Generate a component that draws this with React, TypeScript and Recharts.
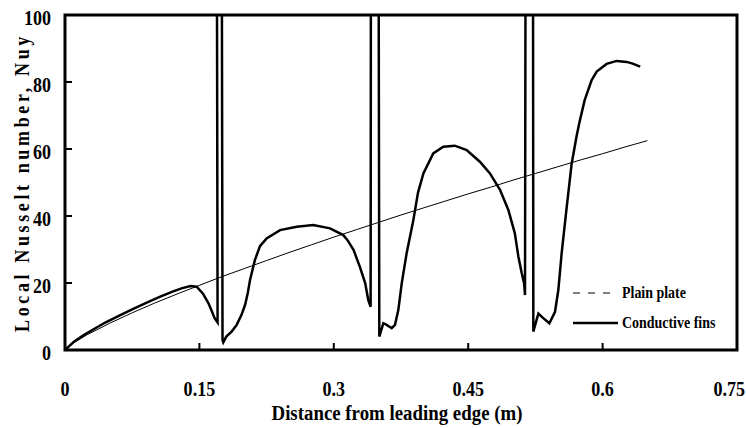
import { LineChart, Line, XAxis, YAxis, ReferenceArea, Legend, Label } from 'recharts'

// plain plate (thin line)
const plateX = [0, 0.01, 0.025, 0.05, 0.075, 0.1, 0.125, 0.15, 0.175, 0.2, 0.225, 0.25, 0.275, 0.3, 0.325, 0.35, 0.375, 0.4, 0.425, 0.45, 0.475, 0.5, 0.525, 0.55, 0.575, 0.6, 0.625, 0.65]
const plateNu = [0, 2.2, 4.6, 8.0, 11.1, 14.0, 16.7, 19.3, 21.9, 24.3, 26.7, 29.1, 31.4, 33.7, 35.9, 38.1, 40.3, 42.4, 44.5, 46.6, 48.6, 50.7, 52.7, 54.7, 56.7, 58.6, 60.6, 62.5]

// conductive fins (thick line) - spikes over the fins go off the top of the plot
const finX = [
  0, 0.01, 0.02, 0.03, 0.045, 0.06, 0.075, 0.09, 0.105, 0.12, 0.13, 0.14, 0.147, 0.154, 0.16, 0.164, 0.167, 0.1703,
  0.1693, 0.1748, 0.1758, 0.1767, 0.18, 0.186, 0.1916, 0.197, 0.201, 0.204, 0.2065, 0.212, 0.2176, 0.225, 0.24, 0.2586,
  0.277, 0.2958, 0.3106, 0.3153, 0.322, 0.329, 0.335, 0.3385, 0.3411,
  0.3415, 0.3498, 0.3508, 0.3553, 0.359, 0.3646, 0.3683, 0.372, 0.3758, 0.3813, 0.3888, 0.394, 0.4, 0.411, 0.4222,
  0.435, 0.4483, 0.463, 0.4743, 0.4855, 0.4948, 0.502, 0.506, 0.5097, 0.5123, 0.5134,
  0.5142, 0.5222, 0.5227, 0.5283, 0.5338, 0.5406, 0.5469, 0.5506, 0.5543, 0.56, 0.5655, 0.5711, 0.5748, 0.58, 0.5878,
  0.5934, 0.6045, 0.6157, 0.6269, 0.6335, 0.642,
]
const finNu = [
  0, 2.5, 4.3, 5.9, 8.2, 10.2, 12.1, 14.0, 15.8, 17.4, 18.4, 19.1, 18.9, 16.8, 14.0, 11.5, 9.5, 8.2,
  150, 150, 3.0, 2.3, 4.0, 5.5, 7.5, 10.5, 13.5, 17.0, 20.9, 26.9, 31.0, 33.3, 35.8, 36.8,
  37.3, 36.3, 34.3, 32.8, 29.9, 24.9, 20.0, 14.9, 12.9,
  150, 150, 4.0, 8.0, 7.5, 6.5, 7.5, 11.9, 19.9, 28.9, 38.8, 47.0, 52.7, 58.7, 60.7,
  61.0, 59.7, 56.2, 52.7, 47.8, 41.8, 34.9, 27.9, 23.0, 20.0, 16.4,
  150, 150, 5.5, 10.9, 9.5, 8.0, 11.4, 17.9, 28.9, 42.8, 55.7, 64.0, 68.7, 74.6, 80.6,
  83.1, 85.4, 86.3, 86.0, 85.5, 84.6,
]

const xTicks = [0, 0.15, 0.3, 0.45, 0.6, 0.75]
const yTicks = [0, 20, 40, 60, 80, 100]

const plateData = plateX.map((x, i) => ({ x, nu: plateNu[i] }))
const finData = finX.map((x, i) => ({ x, nu: finNu[i] }))

const FONT = "'Liberation Serif', 'Times New Roman', serif"

const XTick = ({ x, y, payload, index }: any) => {
  // last label sits right against the page edge, like in the original
  const last = index === xTicks.length - 1
  return (
    <g transform={`translate(${last ? x + 8 : x},${y})`}>
      <text transform="scale(0.82,1)" textAnchor={last ? 'end' : 'middle'} y={13} fontFamily={FONT} fontWeight={700} fontSize={22} fill="#000">
        {String(payload.value)}
      </text>
    </g>
  )
}

const YTick = ({ x, y, payload }: any) => (
  <g transform={`translate(${x},${y})`}>
    <text transform="scale(0.82,1)" textAnchor="end" y={10} fontFamily={FONT} fontWeight={700} fontSize={22} fill="#000">
      {String(payload.value)}
    </text>
  </g>
)

const XTitle = ({ viewBox }: any) => (
  <g transform={`translate(${viewBox.x + viewBox.width / 2 - 4},${viewBox.y + 70})`}>
    <text transform="scale(0.92,1)" textAnchor="middle" fontFamily={FONT} fontWeight={700} fontSize={20.5} fill="#000">
      Distance from leading edge (m)
    </text>
  </g>
)

const YTitle = ({ viewBox }: any) => (
  <g transform={`translate(${viewBox.x + 29},${viewBox.y + viewBox.height / 2}) rotate(-90) scale(0.82,1)`}>
    <text textAnchor="middle" fontFamily={FONT} fontWeight={700} fontSize={22} fill="#000" style={{ letterSpacing: 4.4 }}>
      Local Nusselt number, Nuy
    </text>
  </g>
)

const LegendBox = () => (
  <div style={{ position: 'relative', width: 173, height: 60, fontFamily: FONT, fontWeight: 700, fontSize: 17, color: '#000' }}>
    <svg style={{ position: 'absolute', left: 0, top: 0 }} width={50} height={60}>
      <line x1={0} x2={37} y1={13} y2={13} stroke="#000" strokeWidth={1} strokeDasharray="7 8" />
      <line x1={0} x2={45} y1={43} y2={43} stroke="#000" strokeWidth={2.5} />
    </svg>
    <span style={{ position: 'absolute', left: 49, top: 3, lineHeight: '20px', whiteSpace: 'nowrap', transform: 'scaleX(0.82)', transformOrigin: 'left center' }}>
      Plain plate
    </span>
    <span style={{ position: 'absolute', left: 49, top: 33, lineHeight: '20px', whiteSpace: 'nowrap', transform: 'scaleX(0.82)', transformOrigin: 'left center' }}>
      Conductive fins
    </span>
  </div>
)

export default function App() {
  return (
    <div style={{ position: 'absolute', left: 0, top: 0, background: '#fff' }}>
      <LineChart width={746} height={428} margin={{ top: 15, right: 9, bottom: 0, left: 0 }}>
        <XAxis
          dataKey="x"
          type="number"
          domain={[0, 0.75]}
          ticks={xTicks}
          interval={0}
          height={78}
          axisLine={false}
          tickLine={{ stroke: '#000', strokeWidth: 2 }}
          tickSize={-7}
          tickMargin={40}
          tick={<XTick />}
          allowDataOverflow
        >
          <Label content={<XTitle />} />
        </XAxis>
        <YAxis
          type="number"
          domain={[0, 100]}
          ticks={yTicks}
          interval={0}
          width={65}
          axisLine={false}
          tickLine={{ stroke: '#000', strokeWidth: 2 }}
          tickSize={-7}
          tickMargin={21}
          tick={<YTick />}
          allowDataOverflow
        >
          <Label content={<YTitle />} />
        </YAxis>
        <Line data={plateData} dataKey="nu" type="linear" stroke="#000" strokeWidth={1} dot={false} isAnimationActive={false} />
        <Line data={finData} dataKey="nu" type="linear" stroke="#000" strokeWidth={2.5} dot={false} isAnimationActive={false} />
        <ReferenceArea x1={0} x2={0.75} y1={0} y2={100} fill="none" stroke="#000" strokeWidth={3} ifOverflow="visible" />
        <Legend
          layout="vertical"
          align="center"
          verticalAlign="middle"
          wrapperStyle={{ left: 573, top: 280, right: 'auto', bottom: 'auto', width: 173 }}
          content={() => <LegendBox />}
        />
      </LineChart>
    </div>
  )
}
